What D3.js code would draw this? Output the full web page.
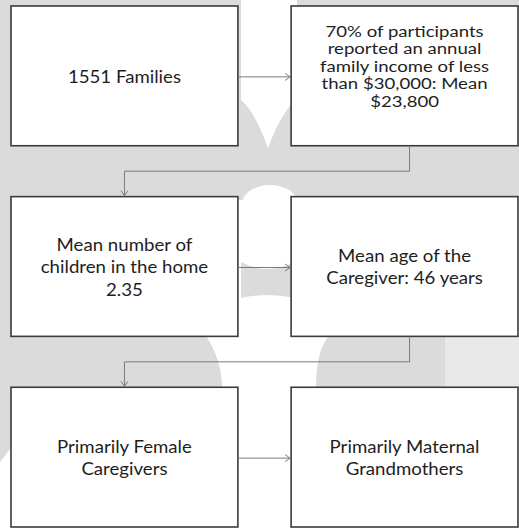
<!DOCTYPE html>
<html><head><meta charset="utf-8">
<script src="https://cdn.jsdelivr.net/npm/d3@7"></script>
<style>html,body{margin:0;padding:0;background:#fff;}svg{display:block;}</style>
</head><body>
<svg id="chart" width="519" height="528"></svg>
<script>
// ---- data ----
const boxIds = ["families", "income", "children", "age", "female", "grandmothers"];
const boxLabels = [
  ["1551 Families"],
  ["70% of participants", "reported an annual", "family income of less", "than $30,000: Mean", "$23,800"],
  ["Mean number of", "children in the home", "2.35"],
  ["Mean age of the", "Caregiver: 46 years"],
  ["Primarily Female", "Caregivers"],
  ["Primarily Maternal", "Grandmothers"]
];
const boxRows = [0, 0, 1, 1, 2, 2];
const boxCols = [0, 1, 0, 1, 0, 1];
const linkFrom = ["families", "income", "children", "age", "female"];
const linkTo = ["income", "children", "age", "female", "grandmothers"];

// ---- layout ----
const W = 519, H = 528;
const svg = d3.select("#chart");
const x = d3.scaleBand().domain([0, 1]).range([11, 518]).paddingInner(0.19);
const y = d3.scaleBand().domain([0, 1, 2]).range([6, 527]).paddingInner(0.267);

const boxes = boxIds.map((id, i) => ({
  id, lines: boxLabels[i], row: boxRows[i], col: boxCols[i],
  x0: x(boxCols[i]), x1: x(boxCols[i]) + x.bandwidth(),
  y0: y(boxRows[i]), y1: y(boxRows[i]) + y.bandwidth()
}));
const byId = Object.fromEntries(boxes.map(b => [b.id, b]));

// ---- watermark background ----
const bg = svg.append("g");
const gray = "#dbdbdb";
bg.append("rect").attr("x", 0).attr("y", 0).attr("width", W).attr("height", 200).attr("fill", gray);
bg.append("path").attr("fill", "#fff")
  .attr("d", "M241,-1 L297,-1 L297,100 Q282,110 268,148 Q254,110 241,100 Z");
bg.append("ellipse").attr("cx", 270).attr("cy", 204).attr("rx", 28).attr("ry", 19).attr("fill", "#fff");
bg.append("path").attr("fill", gray).attr("d", "M0,195 L13,195 L13,445 Q6,455 0,462 Z");
bg.append("path").attr("fill", gray).attr("d", "M241,262 Q268,276 294,262 L294,298 Q268,292 241,298 Z");
bg.append("path").attr("fill", gray).attr("d", "M0,334 L205,334 Q222,360 222,388 L0,388 Z");
bg.append("path").attr("fill", gray).attr("d", "M330,334 L445,334 L445,388 L316,388 Q316,350 330,334 Z");
bg.append("rect").attr("x", 445).attr("y", 334).attr("width", 74).attr("height", 54).attr("fill", "#e8e8e8");

// ---- boxes ----
const g = svg.append("g");
const nodes = g.selectAll("g.box").data(boxes).join("g").attr("class", "box");
nodes.append("rect")
  .attr("x", d => d.x0).attr("y", d => d.y0)
  .attr("width", d => d.x1 - d.x0).attr("height", d => d.y1 - d.y0)
  .attr("fill", "#fff").attr("stroke", "#3a3a3a").attr("stroke-width", 1.6);

nodes.each(function(d) {
  const n = d.lines.length;
  const dense = n >= 5;
  const fs = dense ? 14.4 : 16.5;
  const stretch = dense ? 1.29 : 1.13;
  const lh = dense ? 17.5 : 22.3;
  const cx = (d.x0 + d.x1) / 2;
  const cy = (d.y0 + d.y1) / 2 + (dense ? -9 : 1);
  const t = d3.select(this).append("text")
    .attr("text-anchor", "middle")
    .attr("transform", `translate(${cx},0) scale(${stretch},1)`)
    .attr("font-family", "Lato, 'Open Sans', sans-serif")
    .attr("font-size", fs)
    .attr("fill", "#1e1e1e");
  d.lines.forEach((line, i) => {
    t.append("tspan").attr("x", 0)
      .attr("y", cy + (i - (n - 1) / 2) * lh)
      .attr("dy", "0.35em").text(line);
  });
});

// ---- connectors ----
const lineColor = "#7a7a7a";
const link = d3.line();
function arrowHead(px, py, dir) {
  const s = 5;
  let pts;
  if (dir === "right") pts = [[px - s, py - 3.5], [px, py], [px - s, py + 3.5]];
  else pts = [[px - 3.5, py - s], [px, py], [px + 3.5, py - s]];
  svg.append("path").attr("d", link(pts)).attr("fill", "none")
    .attr("stroke", lineColor).attr("stroke-width", 1);
}
linkFrom.forEach((f, i) => {
  const a = byId[f], b = byId[linkTo[i]];
  let pts, dir;
  if (a.row === b.row) {
    const yy = (a.y0 + a.y1) / 2 + 1;
    pts = [[a.x1, yy], [b.x0 - 1, yy]]; dir = "right";
  } else {
    const sx = (a.x0 + a.x1) / 2 + 5;
    const ex = (b.x0 + b.x1) / 2;
    const my = (a.y1 + b.y0) / 2;
    pts = [[sx, a.y1], [sx, my], [ex, my], [ex, b.y0 - 1]]; dir = "down";
  }
  svg.append("path").attr("d", link(pts)).attr("fill", "none")
    .attr("stroke", lineColor).attr("stroke-width", 1);
  const last = pts[pts.length - 1];
  arrowHead(last[0], last[1], dir);
});
</script>
</body></html>
